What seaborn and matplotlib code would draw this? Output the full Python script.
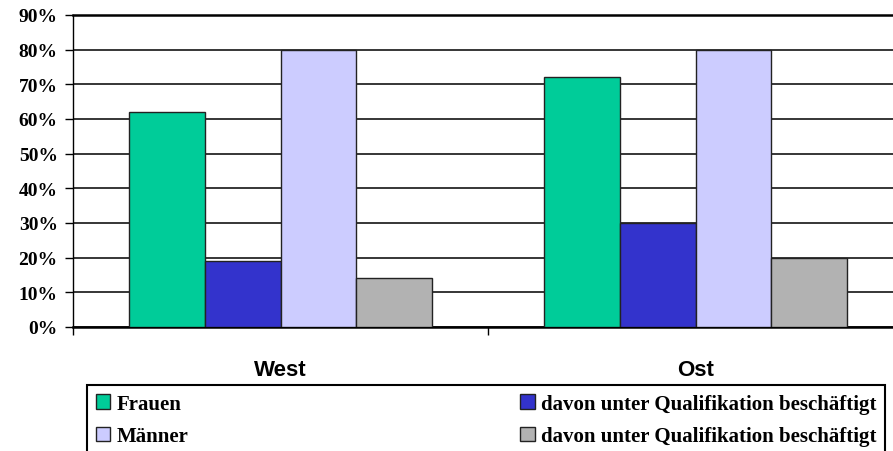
import matplotlib
matplotlib.use("Agg")
import matplotlib.pyplot as plt
from matplotlib.patches import Patch
from matplotlib.ticker import FixedLocator
import seaborn as sns
import pandas as pd

# ---- data ----
regions = ["West", "Ost"]
series_keys = ["Frauen", "Frauen_unter", "Männer", "Männer_unter"]
series_labels = ["Frauen", "davon unter Qualifikation beschäftigt",
                 "Männer", "davon unter Qualifikation beschäftigt"]
frauen = [62, 72]
frauen_unter = [19, 30]
maenner = [80, 80]
maenner_unter = [14, 20]
y_ticks = [0, 10, 20, 30, 40, 50, 60, 70, 80, 90]
y_tick_labels = ["0%", "10%", "20%", "30%", "40%", "50%", "60%", "70%", "80%", "90%"]
colors = ["#00CC99", "#3333CC", "#CCCCFF", "#B2B2B2"]

rows = []
for key, vals in zip(series_keys, [frauen, frauen_unter, maenner, maenner_unter]):
    for r, v in zip(regions, vals):
        rows.append({"region": r, "series": key, "value": v})
df = pd.DataFrame(rows)

W, H = 893, 452
fig = plt.figure(figsize=(W / 100, H / 100), dpi=100)
ax = fig.add_axes([73 / W, 124 / H, 830 / W, 312 / H])

sns.barplot(data=df, x="region", y="value", hue="series", order=regions,
            hue_order=series_keys, palette=dict(zip(series_keys, colors)),
            saturation=1, width=0.728, gap=0, edgecolor="#222222",
            linewidth=1.0, legend=False, ax=ax, errorbar=None, zorder=3)

ax.set_xlim(-0.5, 1.5)
ax.set_ylim(0, 90)
ax.set_xlabel("")
ax.set_ylabel("")

# grid
ax.yaxis.set_major_locator(FixedLocator(y_ticks))
ax.set_yticklabels(y_tick_labels, fontfamily="Liberation Serif",
                   fontweight="bold", fontsize=14)
ax.grid(axis="y", color="black", linewidth=1.1, zorder=0)
ax.grid(axis="x", visible=False)
ax.set_axisbelow(True)
ax.tick_params(axis="y", length=6, width=1, color="black", pad=5, direction="out")

ax.set_xticks([0, 1])
ax.set_xticklabels(regions, fontfamily="Liberation Sans", fontweight="bold",
                   fontsize=16)
ax.tick_params(axis="x", which="major", length=0, pad=23)
ax.set_xticks([-0.5, 0.5, 1.5], minor=True)
ax.tick_params(axis="x", which="minor", length=6, width=1, color="black",
               direction="out")

ax.spines["right"].set_visible(False)
ax.spines["top"].set_color("black")
ax.spines["top"].set_linewidth(1.8)
ax.spines["left"].set_color("black")
ax.spines["left"].set_linewidth(1.0)
ax.spines["bottom"].set_color("black")
ax.spines["bottom"].set_linewidth(1.8)

# legend
handles = [Patch(facecolor=c, edgecolor="#222222", linewidth=1.0) for c in colors]
order = [0, 2, 1, 3]
leg = fig.legend([handles[i] for i in order], [series_labels[i] for i in order],
                 loc="upper left", bbox_to_anchor=(87 / W, 66 / H, 798 / W, 0),
                 mode="expand", ncol=2, borderaxespad=0, frameon=True,
                 fancybox=False, edgecolor="black", framealpha=1,
                 prop={"family": "Liberation Serif", "weight": "bold", "size": 15},
                 handlelength=0.7, handleheight=0.7, handletextpad=0.3,
                 labelspacing=0.6, borderpad=0.42, columnspacing=1.0)
leg.get_frame().set_linewidth(1.5)

fig.savefig("out.png", dpi=100)
